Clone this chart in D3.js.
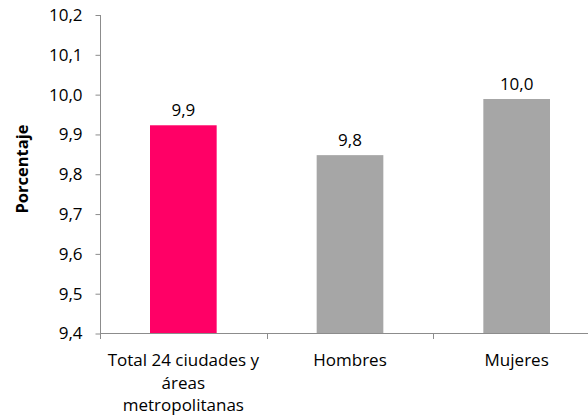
<!DOCTYPE html>
<html><head><meta charset="utf-8">
<script src="https://cdn.jsdelivr.net/npm/d3@7"></script>
<style>body{margin:0;background:#fff}svg{display:block}text{font-family:"Open Sans","Noto Sans",sans-serif;fill:#000}</style>
</head><body>
<svg id="c" width="588" height="415"></svg>
<script>
const categories = [["Total 24 ciudades y","áreas","metropolitanas"],["Hombres"],["Mujeres"]];
const values = [9.923, 9.848, 9.989];
const valueLabels = ["9,9","9,8","10,0"];
const colors = ["#FF0066","#A6A6A6","#A6A6A6"];
const yTicks = [9.4,9.5,9.6,9.7,9.8,9.9,10.0,10.1,10.2];

const svg = d3.select("#c");
const x = d3.scaleBand().domain(d3.range(categories.length)).range([100,600]).paddingInner(0.6).paddingOuter(0.3);
const y = d3.scaleLinear().domain([9.4,10.2]).range([333.5,15]);
const axisColor = "#8c8c8c";
const FS = 17;

// y axis
const ya = svg.append("g").attr("transform","translate(100.5,0)")
  .call(d3.axisLeft(y).tickValues(yTicks).tickSize(5).tickPadding(13).tickFormat(d=>d3.format(".1f")(d).replace(".",",")));
ya.attr("font-size",FS).attr("font-family",null);
ya.select(".domain").attr("stroke",axisColor).attr("d","M0,15V333.5");
ya.selectAll(".tick line").attr("stroke",axisColor);
ya.selectAll(".tick text").attr("fill","#000");

// bars
svg.selectAll("rect.bar").data(values).join("rect").attr("class","bar")
  .attr("x",(d,i)=>x(i)).attr("width",x.bandwidth())
  .attr("y",d=>y(d)).attr("height",d=>y(9.4)-y(d)).attr("fill",(d,i)=>colors[i]);

// x axis
svg.append("line").attr("x1",100).attr("x2",588).attr("y1",333.5).attr("y2",333.5).attr("stroke",axisColor);
[0,1,2].forEach(i=>{
  const xp = Math.round(100 + i*(500/3)) + 0.5;
  svg.append("line").attr("x1",xp).attr("x2",xp).attr("y1",333.5).attr("y2",339).attr("stroke",axisColor);
});

// category labels
categories.forEach((lines,i)=>{
  const cx = x(i)+x.bandwidth()/2;
  lines.forEach((t,j)=>{
    svg.append("text").attr("x",cx).attr("y",366+j*22.5).attr("text-anchor","middle").attr("font-size",FS).text(t);
  });
});

// value labels
svg.selectAll("text.val").data(values).join("text").attr("class","val")
  .attr("x",(d,i)=>x(i)+x.bandwidth()/2).attr("y",d=>y(d)-9)
  .attr("text-anchor","middle").attr("font-size",FS).text((d,i)=>valueLabels[i]);

// y title
svg.append("text").attr("transform","translate(28,169) rotate(-90)").attr("text-anchor","middle")
  .attr("font-size",16.5).attr("font-weight","bold").text("Porcentaje");
</script>
</body></html>
